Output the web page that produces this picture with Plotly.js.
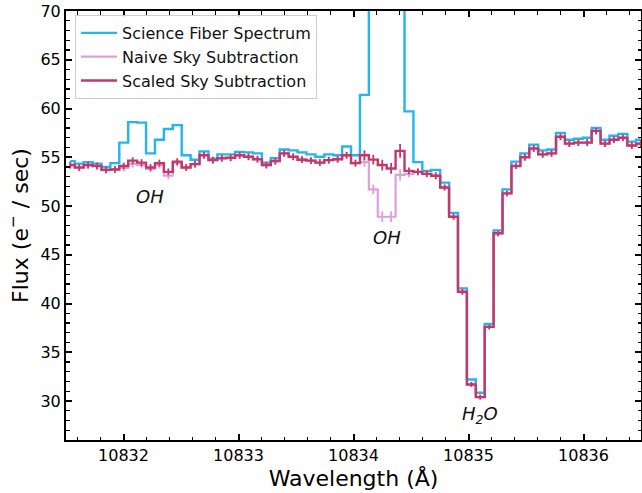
<!DOCTYPE html>
<html>
<head>
<meta charset="utf-8">
<script src="https://cdn.plot.ly/plotly-3.0.1.min.js"></script>
<style>
html,body{margin:0;padding:0;background:#fff;}
#chart{width:642px;height:493px;}
</style>
</head>
<body>
<div id="chart"></div>
<script>
// Wavelength bin centers (Å)
const wavelength = [
  10831.537, 10831.615, 10831.692, 10831.770, 10831.847, 10831.925, 10832.002, 10832.080,
  10832.157, 10832.235, 10832.312, 10832.390, 10832.467, 10832.545, 10832.622, 10832.700,
  10832.777, 10832.855, 10832.932, 10833.010, 10833.087, 10833.165, 10833.242, 10833.320,
  10833.397, 10833.475, 10833.552, 10833.630, 10833.707, 10833.785, 10833.862, 10833.940,
  10834.017, 10834.095, 10834.172, 10834.250, 10834.327, 10834.405, 10834.482, 10834.560,
  10834.637, 10834.715, 10834.792, 10834.870, 10834.947, 10835.025, 10835.102, 10835.180,
  10835.257, 10835.335, 10835.412, 10835.490, 10835.567, 10835.645, 10835.722, 10835.800,
  10835.877, 10835.955, 10836.032, 10836.110, 10836.187, 10836.265, 10836.342, 10836.420,
  10836.497
];

// Science fiber spectrum (e-/sec)
const scienceFlux = [
  54.6, 54.35, 54.5, 54.35, 54.0, 54.4, 56.5, 58.6,
  58.55, 55.4, 56.8, 57.9, 58.3, 55.2, 54.75, 55.6,
  54.85, 55.3, 55.3, 55.55, 55.5, 55.4, 54.45, 54.9,
  55.8, 55.7, 55.5, 55.3, 55.05, 55.3, 55.2, 56.1,
  55.2, 61.4, 85.0, 110.0, 100.0, 78.0, 59.7, 54.5,
  53.6, 53.7, 52.4, 49.3, 41.55, 32.2, 30.85, 37.9,
  47.5, 51.7, 54.55, 55.4, 56.3, 55.7, 55.8, 57.5,
  56.8, 56.9, 57.0, 58.0, 56.8, 57.2, 57.4, 56.6,
  56.8
];

// Naive sky subtraction
const naiveFlux = [
  54.2, 53.95, 54.2, 54.1, 53.7, 53.75, 53.9, 54.3,
  54.2, 53.8, 54.2, 53.1, 54.4, 53.95, 54.3, 55.2,
  54.7, 54.9, 54.95, 55.2, 55.05, 54.8, 54.2, 54.6,
  55.4, 55.05, 54.75, 54.65, 54.45, 54.7, 54.8, 55.2,
  54.4, 54.5, 51.7, 48.9, 48.9, 53.2, 53.3, 53.5,
  53.3, 53.1, 51.9, 48.9, 41.2, 31.7, 30.4, 37.6,
  47.2, 51.3, 54.1, 55.0, 55.9, 55.3, 55.4, 57.1,
  56.4, 56.5, 56.5, 57.7, 56.4, 56.8, 57.0, 56.2,
  56.4
];
const naiveErr = [
  0.35, 0.35, 0.35, 0.35, 0.35, 0.35, 0.35, 0.35,
  0.35, 0.35, 0.35, 0.35, 0.35, 0.35, 0.35, 0.35,
  0.35, 0.35, 0.35, 0.35, 0.35, 0.35, 0.35, 0.35,
  0.35, 0.35, 0.35, 0.35, 0.35, 0.35, 0.35, 0.35,
  0.35, 0.5, 0.5, 0.55, 0.55, 0.6, 0.35, 0.35,
  0.35, 0.35, 0.3, 0.3, 0.3, 0.25, 0.25, 0.25,
  0.3, 0.3, 0.3, 0.35, 0.35, 0.35, 0.35, 0.35,
  0.35, 0.35, 0.35, 0.35, 0.35, 0.35, 0.35, 0.35,
  0.35
];

// Scaled sky subtraction
const scaledFlux = [
  54.2, 53.95, 54.2, 54.1, 53.7, 53.75, 54.1, 54.65,
  54.45, 53.95, 54.4, 53.5, 54.55, 53.95, 54.3, 55.2,
  54.7, 54.9, 54.95, 55.2, 55.05, 54.8, 54.2, 54.6,
  55.4, 55.05, 54.75, 54.65, 54.45, 54.7, 54.8, 55.2,
  54.4, 55.2, 54.76, 54.2, 53.85, 55.65, 53.6, 53.5,
  53.3, 53.1, 51.9, 48.9, 41.2, 31.7, 30.4, 37.6,
  47.2, 51.3, 54.1, 55.0, 55.9, 55.3, 55.4, 57.1,
  56.4, 56.5, 56.5, 57.7, 56.4, 56.8, 57.0, 56.2,
  56.4
];
const scaledErr = [
  0.35, 0.35, 0.35, 0.35, 0.35, 0.35, 0.35, 0.35,
  0.35, 0.35, 0.35, 0.35, 0.35, 0.35, 0.35, 0.35,
  0.35, 0.35, 0.35, 0.35, 0.35, 0.35, 0.35, 0.35,
  0.35, 0.35, 0.35, 0.35, 0.35, 0.35, 0.35, 0.35,
  0.35, 0.5, 0.5, 0.55, 0.55, 0.7, 0.35, 0.35,
  0.35, 0.35, 0.3, 0.3, 0.3, 0.25, 0.25, 0.25,
  0.3, 0.3, 0.3, 0.35, 0.35, 0.35, 0.35, 0.35,
  0.35, 0.35, 0.35, 0.35, 0.35, 0.35, 0.35, 0.35,
  0.35
];

const seriesNames = ["Science Fiber Spectrum", "Naive Sky Subtraction", "Scaled Sky Subtraction"];
const labelText = ["<i>OH</i>", "<i>OH</i>", "<i>H<sub>2</sub>O</i>"];
const labelX = [10832.23, 10834.29, 10835.10];
const labelY = [51.0, 46.8, 28.6];

const FONT = "DejaVu Sans, Arial, sans-serif";
const cBlue = "#22b5f0", cPink = "#dda0dd", cRed = "#c2386b";

const traces = [
  {x: wavelength, y: scienceFlux, name: seriesNames[0], type: "scatter", mode: "lines",
   line: {shape: "hvh", color: cBlue, width: 2.4}},
  {x: wavelength, y: naiveFlux, name: seriesNames[1], type: "scatter", mode: "lines",
   line: {shape: "hvh", color: cPink, width: 2.2},
   error_y: {type: "data", array: naiveErr, visible: true, color: cPink, thickness: 1.8, width: 0}},
  {x: wavelength, y: scaledFlux, name: seriesNames[2], type: "scatter", mode: "lines",
   line: {shape: "hvh", color: cRed, width: 2.4},
   error_y: {type: "data", array: scaledErr, visible: true, color: cRed, thickness: 1.8, width: 0}}
];

const annotations = labelText.map((t, i) => ({
  x: labelX[i], y: labelY[i], xref: "x", yref: "y", text: t, showarrow: false,
  font: {family: FONT, size: 18, color: "#111"}
}));

const axisCommon = {
  showline: true, linecolor: "black", linewidth: 2, mirror: "allticks",
  ticks: "inside", ticklen: 6, tickwidth: 2, tickcolor: "black",
  showgrid: false, zeroline: false,
  tickfont: {family: FONT, size: 16, color: "black"}
};

const layout = {
  width: 642, height: 493,
  margin: {l: 66, r: 1, t: 11, b: 53, pad: 0},
  paper_bgcolor: "white", plot_bgcolor: "white",
  font: {family: FONT, color: "black"},
  showlegend: true,
  legend: {
    x: 0.0157, y: 0.9907, xanchor: "left", yanchor: "top",
    itemwidth: 36,
    bgcolor: "rgba(255,255,255,0.85)", bordercolor: "#cccccc", borderwidth: 1,
    font: {family: FONT, size: 16, color: "#111"}
  },
  xaxis: Object.assign({}, axisCommon, {
    range: [10831.5, 10836.5], dtick: 1, tick0: 10832, tickformat: "d",
    minor: {dtick: 0.2, ticks: "inside", ticklen: 3.5, tickwidth: 1.2, tickcolor: "black", showgrid: false},
    title: {text: "Wavelength (Å)", font: {family: FONT, size: 22, color: "black"}, standoff: 4}
  }),
  yaxis: Object.assign({}, axisCommon, {
    range: [26, 70], dtick: 5, tick0: 0,
    minor: {dtick: 1, ticks: "inside", ticklen: 3.5, tickwidth: 1.2, tickcolor: "black", showgrid: false},
    title: {text: "Flux (e<sup>−</sup> / sec)", font: {family: FONT, size: 22, color: "black"}, standoff: 6}
  }),
  annotations: annotations
};

Plotly.newPlot("chart", traces, layout, {displayModeBar: false, staticPlot: true});
</script>
</body>
</html>
